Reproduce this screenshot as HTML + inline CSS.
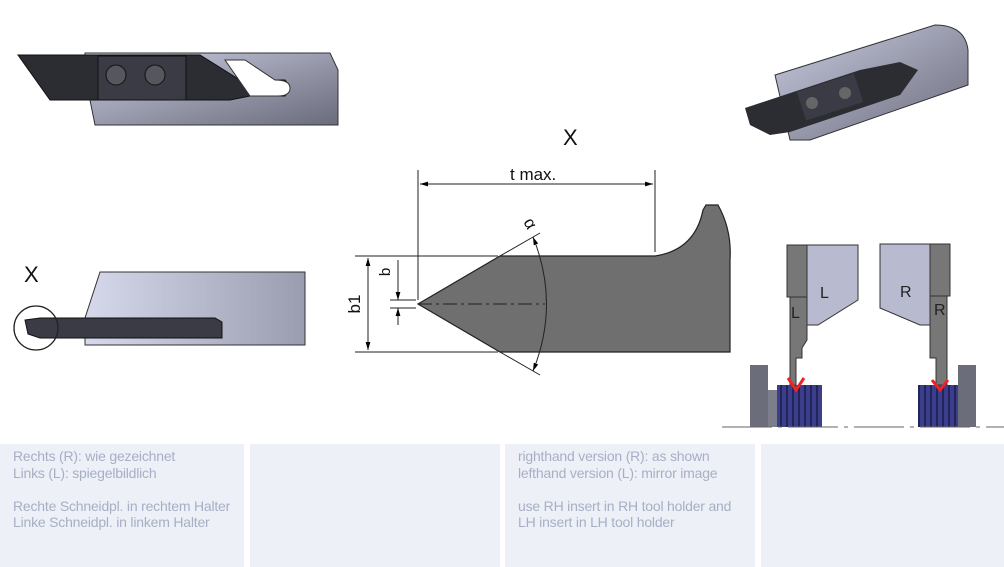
<!DOCTYPE html>
<html><head><meta charset="utf-8"><style>
body{margin:0;width:1004px;height:567px;background:#fff;overflow:hidden;position:relative;font-family:"Liberation Sans",sans-serif}
.p{position:absolute;top:444px;height:123px;background:#edf0f6;color:#a7afc6;font-size:14px;line-height:16.5px;padding:4px 0 0 13px;box-sizing:border-box;letter-spacing:-0.2px}
svg{position:absolute;left:0;top:0}
</style></head><body>
<svg width="1004" height="440" viewBox="0 0 1004 440">
<defs>
<linearGradient id="g1" x1="0" y1="0" x2="1" y2="1"><stop offset="0" stop-color="#c9cbe0"/><stop offset="1" stop-color="#6a6c7c"/></linearGradient>
<linearGradient id="g2" x1="0" y1="0" x2="1" y2="0"><stop offset="0" stop-color="#d6d8ec"/><stop offset="1" stop-color="#9a9cb0"/></linearGradient>
<pattern id="th" width="6" height="10" patternUnits="userSpaceOnUse"><rect width="6" height="10" fill="#3b3e8a"/><rect width="2" height="10" fill="#22245a"/></pattern>
<marker id="a" viewBox="0 0 10 10" refX="10" refY="5" markerWidth="8" markerHeight="8" orient="auto-start-reverse"><path d="M0,2L10,5L0,8z" fill="#000"/></marker>
</defs>
<path d="M85,53H330L338,70V125H95L90,100H85Z" fill="url(#g1)" stroke="#333" stroke-width="1"/>
<path d="M18,55H200L240,80H285Q292,88 285,96H250L230,100H60L50,100Z" fill="#2c2d33" stroke="#111"/>
<path d="M225,60L245,60L275,80Q290,80 290,88Q290,96 278,96L250,96Z" fill="#fff" stroke="#333"/>
<rect x="98" y="56" width="88" height="44" fill="#3a3b44" stroke="#111"/>
<circle cx="116" cy="75" r="10" fill="#55565e" stroke="#111"/><circle cx="155" cy="75" r="10" fill="#55565e" stroke="#111"/>
<path d="M775,75L935,25Q965,25 968,50V85L810,140L790,140Z" fill="url(#g1)" stroke="#333"/>
<path d="M745,108L860,70L900,62L918,70L900,95L790,132L770,135L750,125Z" fill="#2c2d33"/>
<rect x="800" y="82" width="60" height="30" fill="#3a3b44" transform="rotate(-18 830 97)"/>
<circle cx="812" cy="103" r="6" fill="#666"/><circle cx="845" cy="93" r="6" fill="#666"/>
<text x="24" y="282" font-size="22" fill="#111">X</text>
<path d="M100,272H305V345H85V318Z" fill="url(#g2)" stroke="#333"/>
<path d="M25,320L40,318H215L222,322V338H40L28,334Z" fill="#3a3b44" stroke="#111"/>
<circle cx="36" cy="328" r="22" fill="none" stroke="#222" stroke-width="1.3"/>
<text x="563" y="145" font-size="22" fill="#111">X</text>
<path d="M418,304L500,256H655Q695,250 703,210L706,205H718Q732,230 730,260V352H500Z" fill="#6f6f6f" stroke="#222" stroke-width="1.2"/>
<line x1="418" y1="304" x2="545" y2="304" stroke="#222" stroke-dasharray="14,4,3,4"/>
<line x1="418" y1="170" x2="418" y2="300" stroke="#222"/>
<line x1="655" y1="170" x2="655" y2="252" stroke="#222"/>
<line x1="420" y1="184" x2="653" y2="184" stroke="#222" marker-start="url(#a)" marker-end="url(#a)"/>
<text x="510" y="180" font-size="17" fill="#111">t max.</text>
<line x1="355" y1="256" x2="498" y2="256" stroke="#222"/>
<line x1="355" y1="352" x2="498" y2="352" stroke="#222"/>
<line x1="368" y1="258" x2="368" y2="350" stroke="#222" marker-start="url(#a)" marker-end="url(#a)"/>
<text transform="translate(360,304) rotate(-90)" font-size="17" fill="#111" text-anchor="middle">b1</text>
<line x1="390" y1="300" x2="416" y2="300" stroke="#222"/><line x1="390" y1="308" x2="416" y2="308" stroke="#222"/>
<line x1="398" y1="260" x2="398" y2="300" stroke="#222" marker-end="url(#a)"/>
<line x1="398" y1="325" x2="398" y2="308" stroke="#222" marker-end="url(#a)"/>
<text transform="translate(390,272) rotate(-90)" font-size="15" fill="#111" text-anchor="middle">b</text>
<line x1="500" y1="256" x2="540" y2="233" stroke="#222"/><line x1="500" y1="352" x2="540" y2="375" stroke="#222"/>
<path d="M533,237Q560,304 533,371" fill="none" stroke="#222" marker-start="url(#a)" marker-end="url(#a)"/>
<text transform="translate(523,222) rotate(60)" font-size="17" fill="#111">α</text>
<rect x="787" y="245" width="20" height="52" fill="#777" stroke="#333"/>
<path d="M807,245H858V300L818,325H807Z" fill="#b8bad0" stroke="#333"/>
<path d="M790,297H807V340L802,348V358H796V385H790Z" fill="#777" stroke="#333"/>
<text x="820" y="298" font-size="16" fill="#222">L</text><text x="791" y="318" font-size="16" fill="#222">L</text>
<rect x="930" y="244" width="20" height="52" fill="#777" stroke="#333"/>
<path d="M880,244H930V325H920L880,308Z" fill="#b8bad0" stroke="#333"/>
<path d="M930,296H947V385H936V358H930V348Z" fill="#777" stroke="#333"/>
<text x="900" y="297" font-size="16" fill="#222">R</text><text x="934" y="315" font-size="16" fill="#222">R</text>
<rect x="750" y="365" width="18" height="62" fill="#6c6d7a"/><rect x="768" y="390" width="10" height="37" fill="#7d7e8c"/>
<rect x="777" y="385" width="45" height="42" fill="url(#th)"/>
<rect x="958" y="365" width="18" height="62" fill="#6c6d7a"/><rect x="948" y="390" width="10" height="37" fill="#7d7e8c"/>
<rect x="918" y="385" width="40" height="42" fill="url(#th)"/>
<path d="M788,378L796,390L804,378M932,380L940,390L948,380" fill="none" stroke="#e22" stroke-width="3"/>
<line x1="722" y1="427" x2="1004" y2="427" stroke="#666" stroke-dasharray="50,6,4,6"/>
</svg>
<div class="p" style="left:0;width:244px">Rechts (R): wie gezeichnet<br>Links (L): spiegelbildlich<br><br>Rechte Schneidpl. in rechtem Halter<br>Linke Schneidpl. in linkem Halter</div>
<div class="p" style="left:250px;width:250px"></div>
<div class="p" style="left:505px;width:250px">righthand version (R): as shown<br>lefthand version (L): mirror image<br><br>use RH insert in RH tool holder and<br>LH insert in LH tool holder</div>
<div class="p" style="left:761px;width:243px"></div>
</body></html>
